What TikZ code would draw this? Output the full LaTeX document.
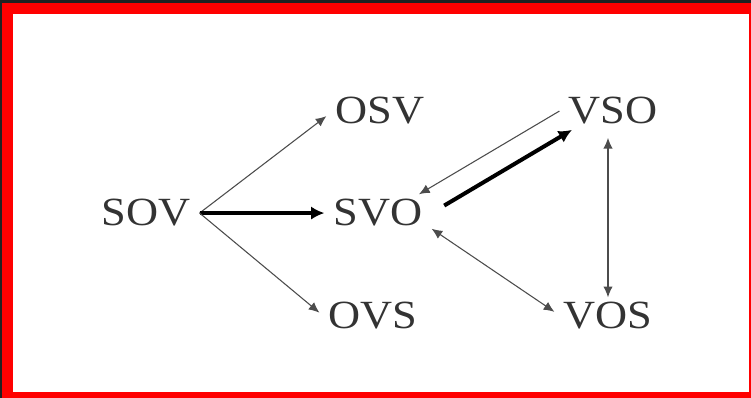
\documentclass[tikz,border=0pt]{standalone}
\usepackage{amsmath}
\usepackage{amssymb}
\usepackage{fontspec}
\setmainfont{Liberation Serif}
\usepackage{tikz}
\usetikzlibrary{arrows.meta}

\tikzset{
  order/.style={font=\fontsize{30}{32}\selectfont, text=black!80, anchor=base, inner xsep=6pt, inner ysep=3.75pt, xscale=1.11},
  thin/.style={line width=0.8, draw=black!70, -{Latex[length=8pt,width=7pt]}},
  thick/.style={line width=3, draw=black, -{Latex[length=10pt,width=10pt]}},
}

\begin{document}
\begin{tikzpicture}[x=0.75pt,y=0.75pt,yscale=-1,xscale=1]
\useasboundingbox (0,0) rectangle (751,398);

%Shape: Rectangle (frame)
\fill [black!87] (0,0) rectangle (751,398) ;
\fill [red] (2,3) rectangle (751,398) ;
\fill [white] (13,14) rectangle (749,392) ;

% Text Node
\draw (146,226) node (sov) [order] {SOV};
% Text Node
\draw (380,124) node (osv) [order] {OSV};
% Text Node
\draw (378,226) node (svo) [order] {SVO};
% Text Node
\draw (373,329) node (ovs) [order] {OVS};
% Text Node
\draw (613,124) node (vso) [order] {VSO};
% Text Node
\draw (608,329) node (vos) [order] {VOS};

%Straight Lines
\draw [thin] (sov.east) -- (osv.186) ;
%Straight Lines
\draw [thick] (sov.east) -- (svo.west) ;
%Straight Lines
\draw [thin] (sov.east) -- (ovs.176) ;
%Straight Lines
\draw [thin] (vso.west) -- (svo.27) ;
%Straight Lines
\draw [thick, shorten <=11pt] (svo.east) -- (vso.207) ;
%Straight Lines
\draw [thin, {Latex[length=8pt,width=7pt]}-{Latex[length=8pt,width=7pt]}] (svo.342) -- (vos.175) ;
%Straight Lines
\draw [thin, {Latex[length=8pt,width=7pt]}-{Latex[length=8pt,width=7pt]}, shorten <=6pt] (vos.north |- vso.south) -- (vos.north) ;

\end{tikzpicture}
\end{document}
